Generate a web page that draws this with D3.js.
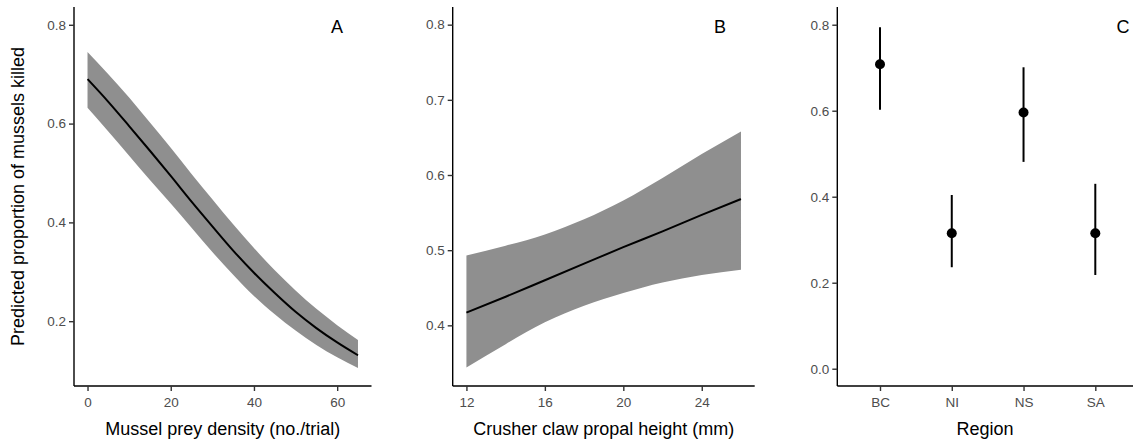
<!DOCTYPE html>
<html>
<head>
<meta charset="utf-8">
<script src="https://cdn.jsdelivr.net/npm/d3@7/dist/d3.min.js"></script>
<style>
  html, body { margin: 0; padding: 0; background: #fff; }
  svg { display: block; font-family: "Liberation Sans", Arial, sans-serif; }
</style>
</head>
<body>
<svg id="chart" width="1133" height="440"></svg>
<script>
// ---- Panel A: mussel prey density ----
const densityX = [0, 5, 10, 15, 20, 25, 30, 35, 40, 45, 50, 55, 60, 65];
const densityFit = [0.690, 0.644, 0.595, 0.545, 0.494, 0.442, 0.392, 0.343, 0.298, 0.257, 0.219, 0.186, 0.157, 0.131];
const densityUpper = [0.745, 0.700, 0.653, 0.602, 0.551, 0.498, 0.447, 0.396, 0.348, 0.303, 0.262, 0.225, 0.192, 0.162];
const densityLower = [0.632, 0.584, 0.535, 0.486, 0.438, 0.389, 0.340, 0.294, 0.251, 0.214, 0.181, 0.152, 0.127, 0.105];
const densityTicksX = [0, 20, 40, 60];
const densityTicksY = [0.2, 0.4, 0.6, 0.8];

// ---- Panel B: crusher claw propal height ----
const clawX = [12, 14, 16, 18, 20, 22, 24, 26];
const clawFit = [0.417, 0.438, 0.460, 0.482, 0.504, 0.525, 0.547, 0.568];
const clawUpper = [0.493, 0.506, 0.521, 0.541, 0.566, 0.596, 0.628, 0.658];
const clawLower = [0.344, 0.375, 0.404, 0.426, 0.443, 0.457, 0.467, 0.474];
const clawTicksX = [12, 16, 20, 24];
const clawTicksY = [0.4, 0.5, 0.6, 0.7, 0.8];

// ---- Panel C: region ----
const regions = ["BC", "NI", "NS", "SA"];
const regionMean = [0.708, 0.315, 0.596, 0.315];
const regionLow = [0.602, 0.236, 0.481, 0.218];
const regionHigh = [0.794, 0.404, 0.701, 0.430];
const regionTicksY = [0.0, 0.2, 0.4, 0.6, 0.8];

const panelLabels = ["A", "B", "C"];
const yTitle = "Predicted proportion of mussels killed";
const xTitles = ["Mussel prey density (no./trial)", "Crusher claw propal height (mm)", "Region"];

const svg = d3.select("#chart");
const yTop = 7, yBottom = 386;
const tickLen = 5;
const fmt = d3.format(".1f");
const bandColor = "#8f8f8f";
const titleSize = "18px";

function styleAxis(g) {
  g.select(".domain").attr("stroke", "#000").attr("stroke-width", 1.4);
  g.selectAll(".tick line").attr("stroke", "#333").attr("stroke-width", 1.4);
  g.selectAll(".tick text").attr("fill", "#4d4d4d").attr("font-size", "13.5px")
    .attr("font-family", "Liberation Sans, Arial, sans-serif");
}

function addTitle(xc, title) {
  svg.append("text").attr("x", xc).attr("y", 434.5).attr("text-anchor", "middle")
    .attr("font-size", titleSize).attr("fill", "#000").text(title);
}
function addLabel(xc, label) {
  svg.append("text").attr("x", xc).attr("y", 32.5).attr("text-anchor", "middle")
    .attr("font-size", titleSize).attr("fill", "#000").text(label);
}

function xAxisGen(x) {
  return d3.axisBottom(x).tickSizeOuter(0).tickSize(tickLen).tickPadding(6.5);
}
function yAxisGen(y, ticks) {
  return d3.axisLeft(y).tickValues(ticks).tickFormat(fmt).tickSizeOuter(0).tickSize(tickLen).tickPadding(3);
}

function drawAxes(x, y, xTicks, yTicks, xFormat, title, labelX, label) {
  const [x0, x1] = x.range();
  const gx = svg.append("g").attr("transform", `translate(0,${yBottom})`)
    .call(xAxisGen(x).tickValues(xTicks).tickFormat(xFormat));
  gx.select(".domain").attr("d", `M${x0},0H${x1}`);
  styleAxis(gx);
  const gy = svg.append("g").attr("transform", `translate(${x0},0)`).call(yAxisGen(y, yTicks));
  gy.select(".domain").attr("d", `M0,${yTop}V${yBottom}`);
  styleAxis(gy);
  addTitle((x0 + x1) / 2, title);
  addLabel(labelX, label);
}

// Panel A
{
  const x = d3.scaleLinear().domain([-3.25, 68.25]).range([74, 371.5]);
  const y = d3.scaleLinear().domain([0.0688, 0.836]).range([yBottom, yTop]);
  const idx = d3.range(densityX.length);
  svg.append("path").attr("fill", bandColor)
    .attr("d", d3.area().curve(d3.curveMonotoneX).x(i => x(densityX[i])).y0(i => y(densityLower[i])).y1(i => y(densityUpper[i]))(idx));
  svg.append("path").attr("fill", "none").attr("stroke", "#000").attr("stroke-width", 2)
    .attr("d", d3.line().curve(d3.curveMonotoneX).x(i => x(densityX[i])).y(i => y(densityFit[i]))(idx));
  drawAxes(x, y, densityTicksX, densityTicksY, d3.format("d"), xTitles[0], 337, panelLabels[0]);
}

// Panel B
{
  const x = d3.scaleLinear().domain([11.3, 26.7]).range([452.7, 754.7]);
  const y = d3.scaleLinear().domain([0.3193, 0.8235]).range([yBottom, yTop]);
  const idx = d3.range(clawX.length);
  svg.append("path").attr("fill", bandColor)
    .attr("d", d3.area().curve(d3.curveMonotoneX).x(i => x(clawX[i])).y0(i => y(clawLower[i])).y1(i => y(clawUpper[i]))(idx));
  svg.append("path").attr("fill", "none").attr("stroke", "#000").attr("stroke-width", 2)
    .attr("d", d3.line().curve(d3.curveMonotoneX).x(i => x(clawX[i])).y(i => y(clawFit[i]))(idx));
  drawAxes(x, y, clawTicksX, clawTicksY, d3.format("d"), xTitles[1], 720, panelLabels[1]);
}

// Panel C
{
  const x = d3.scalePoint().domain(regions).range([880, 1095.3]);
  const y = d3.scaleLinear().domain([-0.0402, 0.8412]).range([yBottom, yTop]);
  const gx = svg.append("g").attr("transform", `translate(0,${yBottom})`).call(xAxisGen(x));
  gx.select(".domain").attr("d", `M837.3,0H1133`);
  styleAxis(gx);
  const gy = svg.append("g").attr("transform", `translate(837.3,0)`).call(yAxisGen(y, regionTicksY));
  gy.select(".domain").attr("d", `M0,${yTop}V${yBottom}`);
  styleAxis(gy);
  addTitle(985, xTitles[2]);
  addLabel(1123, panelLabels[2]);

  const g = svg.append("g");
  regions.forEach((r, i) => {
    g.append("line").attr("x1", x(r)).attr("x2", x(r))
      .attr("y1", y(regionLow[i])).attr("y2", y(regionHigh[i]))
      .attr("stroke", "#000").attr("stroke-width", 2);
    g.append("circle").attr("cx", x(r)).attr("cy", y(regionMean[i])).attr("r", 5).attr("fill", "#000");
  });
}

// Shared y title
svg.append("text").attr("transform", `translate(24,196.5) rotate(-90)`)
  .attr("text-anchor", "middle").attr("font-size", titleSize).attr("fill", "#000").text(yTitle);
</script>
</body>
</html>
